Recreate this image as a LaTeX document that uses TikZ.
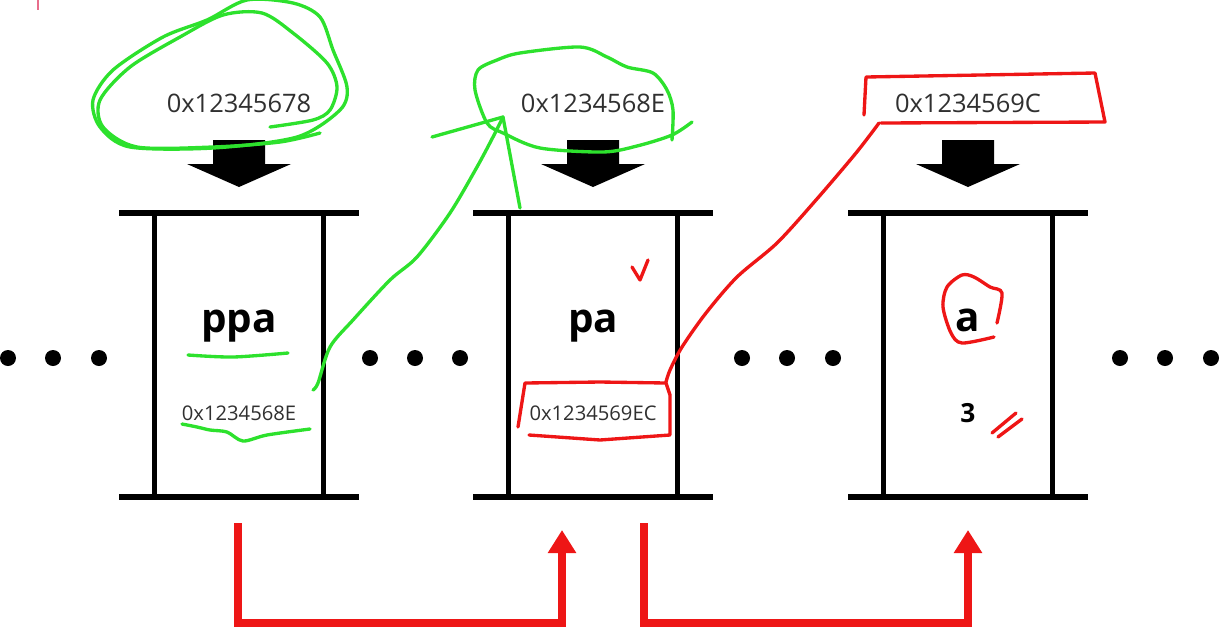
\documentclass[tikz,border=0pt]{standalone}
\usepackage{fontspec}
\setmainfont{Open Sans}
\usetikzlibrary{arrows.meta,calc,positioning}
\definecolor{pengreen}{RGB}{45,225,45}
\definecolor{penred}{RGB}{238,22,22}
\definecolor{penpink}{RGB}{232,110,140}
\definecolor{addrgray}{RGB}{48,48,48}
\tikzset{
        wall/.style = {line width=3.4pt},
        addr/.style = {text=addrgray, inner sep=0pt, anchor=base,
            font=\fontsize{14.5}{16}\selectfont},
        celladdr/.style = {text=addrgray, inner sep=0pt, anchor=base,
            font=\fontsize{11.5}{13}\selectfont},
        varname/.style = {inner sep=0pt, anchor=base,
            font=\bfseries\fontsize{23}{26}\selectfont},
        greenpen/.style = {draw=pengreen, line width=1.9pt, line cap=round, line join=round},
        redpen/.style = {draw=penred, line width=1.9pt, line cap=round, line join=round},
        jump/.style = {draw=penred, line width=4pt,
            -{Triangle[length=0.46cm, width=0.54cm]}},
    }

\begin{document}
\begin{tikzpicture}[x=0.02cm, y=-0.02cm]
    \useasboundingbox (0,0) rectangle (1231,630);

    \foreach \n/\cx in {1/239, 2/593, 3/968} {
        \coordinate (cell\n) at (\cx,213);
        \draw[wall] ($(cell\n)+(-120,0)$) -- ($(cell\n)+(120,0)$);
        \draw[wall] ($(cell\n)+(-120,284)$) -- ($(cell\n)+(120,284)$);
        \draw[wall] ($(cell\n)+(-84.5,0)$) -- ($(cell\n)+(-84.5,284)$);
        \draw[wall] ($(cell\n)+(84.5,0)$) -- ($(cell\n)+(84.5,284)$);
        \fill ($(cell\n)+(-26,-73)$) -- ($(cell\n)+(26,-73)$) -- ($(cell\n)+(26,-49)$)
            -- ($(cell\n)+(52,-49)$) -- ($(cell\n)+(0,-26)$) -- ($(cell\n)+(-52,-49)$)
            -- ($(cell\n)+(-26,-49)$) -- cycle;
    }

    \foreach \x in {8,53,99,370,415,460,742,787,833,1120,1165,1211}
        \fill (\x,358) circle[radius=8];

    \node[addr] (addr1) at ($(cell1)+(0,-101)$) {0x12345678};
    \node[addr] (addr2) at ($(cell2)+(0,-101)$) {0x1234568E};
    \node[addr] (addr3) at ($(cell3)+(0,-101)$) {0x1234569C};

    \node[varname] (ppa) at ($(cell1)+(0,119)$) {ppa};
    \node[varname] (pa) at ($(cell2)+(0,119)$) {pa};
    \node[varname] (a) at ($(cell3)+(0,118)$) {a};

    \node[celladdr] (val1) at ($(cell1)+(0,207)$) {0x1234568E};
    \node[celladdr] (val2) at ($(cell2)+(0,207)$) {0x1234569EC};
    \node[varname, font=\bfseries\fontsize{15}{17}\selectfont] (val3) at ($(cell3)+(0,209)$) {3};

    \coordinate (from1) at ($(cell1)+(-1,310)$);
    \coordinate (to2) at ($(cell2)+(-31,317)$);
    \coordinate (from2) at ($(cell2)+(51,310)$);
    \coordinate (to3) at ($(cell3)+(0,317)$);
    \draw[jump] (from1) -- ($(from1)+(0,100)$) -| (to2);
    \draw[jump] (from2) -- ($(from2)+(0,100)$) -| (to3);

    \draw[greenpen] plot[smooth cycle] coordinates {(247,0) (207,20) (163,37) (113,70) (93,100)
        (100,127) (130,147) (213,148) (297,137) (340,110) (347,87) (333,50) (320,17) (293,3)};
    \draw[greenpen] plot[smooth] coordinates {(320,133) (280,142) (213,147) (137,147) (103,127)
        (100,100) (130,67) (180,37) (223,15) (262,13) (293,33) (327,63) (337,87) (330,110)
        (313,120) (270,127)};
    \draw[greenpen] plot[smooth] coordinates {(188,355) (233,357) (288,353)};
    \draw[greenpen] plot[smooth] coordinates {(182,424) (197,427) (210,430) (227,432) (243,441)
        (267,435) (310,429)};
    \draw[greenpen] plot[smooth] coordinates {(313,390) (318,383) (330,347) (353,320) (390,280)
        (417,257) (450,213) (477,167) (493,137) (503,117)};
    \draw[greenpen] (432,137) -- (503,117) -- (520,208);
    \draw[greenpen] plot[smooth] coordinates {(692,122) (672,135) (637,146) (603,152) (540,148)
        (503,133) (487,123) (475,90) (478,70) (497,60) (520,53) (580,47) (607,57) (627,67)
        (653,73) (667,90) (673,110) (672,140)};

    \draw[redpen] (864,115) -- (866,77) -- (1095,73) -- (1105,122) -- (881,123);
    \draw[redpen] plot[smooth] coordinates {(879,123) (856,153) (816,200) (777,243) (737,277)
        (706,313) (682,347) (670,370) (666,382)};
    \draw[redpen] (518,427) -- (525,383) -- (600,382) -- (666,383) -- (670,395) -- (670,435)
        -- (600,440) -- (529,435);
    \draw[redpen] (632,267) -- (640,280) -- (648,260);
    \draw[redpen] plot[smooth] coordinates {(997,323) (1002,293) (990,287) (974,277) (962,275)
        (947,287) (943,307) (951,333) (962,343) (994,337)};
    \draw[redpen] (992,433) -- (1016,413);
    \draw[redpen] (998,437) -- (1022,419);
    \draw[draw=penpink, line width=1.2pt] (38,0) -- (38,10);
\end{tikzpicture}
\end{document}
